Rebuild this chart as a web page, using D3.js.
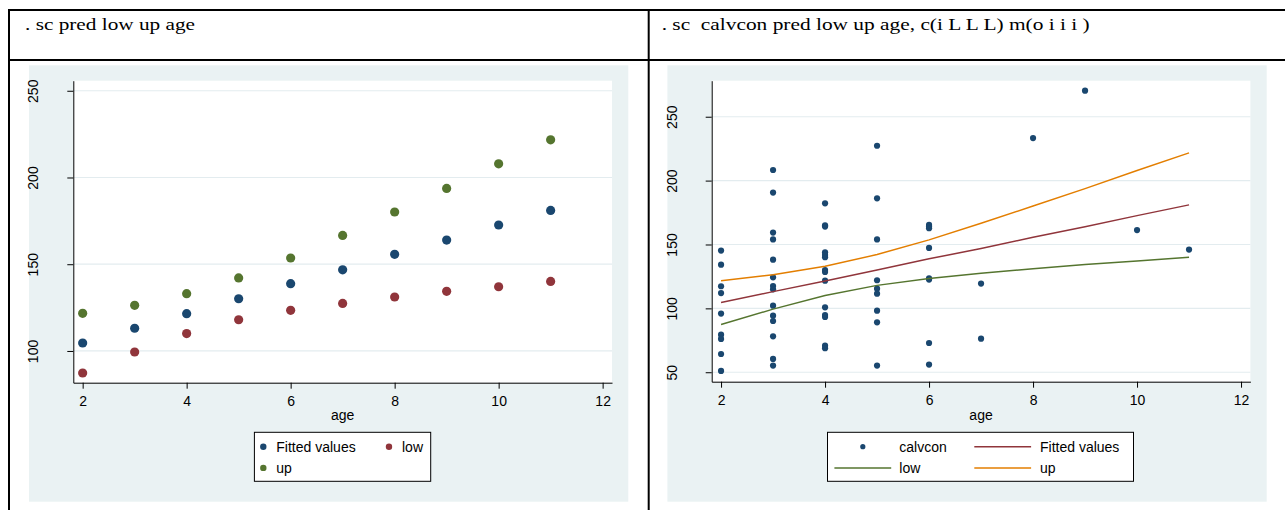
<!DOCTYPE html>
<html>
<head>
<meta charset="utf-8">
<script src="https://cdn.jsdelivr.net/npm/d3@7"></script>
<style>
  body { margin: 0; background: #fff; }
  svg text { font-family: "Liberation Sans", Arial, sans-serif; }
</style>
</head>
<body>
<div id="chart"></div>
<script>
// age groups used for the predictions
const ages = [2, 3, 4, 5, 6, 7, 8, 9, 10, 11];
const fitted = [104.6, 113.1, 121.5, 130.1, 138.8, 146.8, 155.7, 163.9, 172.6, 181.0];
const low = [87.3, 99.4, 110.0, 118.0, 123.4, 127.4, 131.1, 134.4, 137.0, 140.1];
const up = [121.7, 126.3, 133.0, 142.1, 153.6, 166.6, 180.1, 193.7, 207.9, 221.7];

// raw calvcon observations, grouped by age
const calvconAges = [2, 3, 4, 5, 6, 7, 8, 9, 10, 11];
const calvconByAge = [
  [145.2, 134.2, 117.3, 112.0, 95.9, 79.4, 76.1, 64.3, 51.0],
  [208.3, 190.6, 159.3, 154.0, 138.1, 124.3, 117.5, 114.9, 102.1, 94.3, 90.1, 78.1, 60.4, 55.2],
  [182.2, 165.0, 164.0, 143.9, 141.8, 140.0, 130.0, 128.5, 121.7, 100.8, 94.8, 93.3, 70.8, 68.8],
  [227.3, 186.1, 154.0, 122.0, 115.4, 111.5, 98.2, 89.1, 55.2],
  [165.3, 164.0, 162.7, 147.3, 123.5, 122.5, 72.9, 56.0],
  [119.4, 76.3],
  [233.3],
  [270.4],
  [161.3],
  [146.0],
];

const xTicks = [2, 4, 6, 8, 10, 12];
const yTicksLeft = [100, 150, 200, 250];
const yTicksRight = [50, 100, 150, 200, 250];

const headers = [". sc pred low up age", ". sc  calvcon pred low up age, c(i L L L) m(o i i i )"];

const navy = "#1a476f";
const maroon = "#90353b";
const green = "#55752f";
const orange = "#e37e00";
const bg = "#eaf2f3";

const svg = d3
  .select("#chart")
  .append("svg")
  .attr("width", 1285)
  .attr("height", 510);

// table frame
const frame = svg.append("g").attr("stroke", "#000").attr("stroke-width", 2);
frame.append("line").attr("x1", 8).attr("x2", 1285).attr("y1", 10).attr("y2", 10);
frame.append("line").attr("x1", 8).attr("x2", 1285).attr("y1", 60).attr("y2", 60);
frame.append("line").attr("x1", 9).attr("x2", 9).attr("y1", 9).attr("y2", 510);
frame.append("line").attr("x1", 648.7).attr("x2", 648.7).attr("y1", 9).attr("y2", 510);

// the header text is wide and squat in the original, so stretch it to fit
svg
  .selectAll(".header")
  .data(headers)
  .enter()
  .append("text")
  .attr("class", "header")
  .attr("x", (d, i) => (i === 0 ? 25 : 661.7))
  .attr("y", 29.5)
  .attr("textLength", (d, i) => (i === 0 ? 170 : 428))
  .attr("lengthAdjust", "spacingAndGlyphs")
  .style("font-family", '"Liberation Serif", "Times New Roman", serif')
  .style("font-size", "17px")
  .style("white-space", "pre")
  .text((d) => d);

function panel(ox, yDomain, yRange, yTicks) {
  const g = svg.append("g").attr("transform", `translate(${ox},0)`);

  g.append("rect")
    .attr("x", 29)
    .attr("y", 65.3)
    .attr("width", 599.3)
    .attr("height", 436.4)
    .attr("fill", bg);

  const x = d3.scaleLinear().domain([1.82, 12.18]).range([73.3, 612]);
  const y = d3.scaleLinear().domain(yDomain).range(yRange);

  g.append("rect")
    .attr("x", 73.3)
    .attr("y", 80.7)
    .attr("width", 612 - 73.3)
    .attr("height", yRange[0] - 80.7)
    .attr("fill", "#fff");

  g.selectAll(".grid")
    .data(yTicks)
    .enter()
    .append("line")
    .attr("class", "grid")
    .attr("x1", 73.3)
    .attr("x2", 612)
    .attr("y1", (d) => y(d))
    .attr("y2", (d) => y(d))
    .attr("stroke", "#e3ecef")
    .attr("stroke-width", 1.2);

  const xAxis = g
    .append("g")
    .attr("transform", `translate(0,${yRange[0]})`)
    .call(d3.axisBottom(x).tickValues(xTicks).tickSize(6).tickSizeOuter(0).tickPadding(7));
  xAxis.selectAll("text").style("font-size", "14px").attr("fill", "#000");
  xAxis.selectAll("line, path").attr("stroke", "#000");

  const yAxis = g
    .append("g")
    .attr("transform", "translate(73.3,0)")
    .call(d3.axisLeft(y).tickValues(yTicks).tickSize(6).tickSizeOuter(0));
  yAxis.selectAll("line, path").attr("stroke", "#000");
  yAxis
    .selectAll("text")
    .attr("transform", "rotate(-90)")
    .attr("x", 0)
    .attr("y", -35)
    .attr("dy", 0)
    .attr("text-anchor", "middle")
    .attr("fill", "#000")
    .style("font-size", "14px");

  g.append("text")
    .attr("x", (73.3 + 612) / 2)
    .attr("y", 420)
    .attr("text-anchor", "middle")
    .style("font-size", "14px")
    .text("age");

  const legend = g.append("g");
  return { g, x, y, legend };
}

// ---- left: markers only
const left = panel(0, [81.7, 255.8], [382.7, 80.7], yTicksLeft);
const leftSeries = [
  { name: "up", values: up, color: green },
  { name: "low", values: low, color: maroon },
  { name: "Fitted values", values: fitted, color: navy },
];
leftSeries.forEach((s) => {
  left.g
    .selectAll(null)
    .data(ages)
    .enter()
    .append("circle")
    .attr("cx", (d) => left.x(d))
    .attr("cy", (d, i) => left.y(s.values[i]))
    .attr("r", 4.6)
    .attr("fill", s.color);
});

left.legend
  .append("rect")
  .attr("x", 254.4)
  .attr("y", 432.3)
  .attr("width", 176.3)
  .attr("height", 49)
  .attr("fill", "#fff")
  .attr("stroke", "#000");

const leftKeys = [
  { name: "Fitted values", color: navy, x: 263.3, y: 446.7 },
  { name: "low", color: maroon, x: 389, y: 446.7 },
  { name: "up", color: green, x: 263.3, y: 467.9 },
];
leftKeys.forEach((k) => {
  left.legend.append("circle").attr("cx", k.x).attr("cy", k.y).attr("r", 3.2).attr("fill", k.color);
  left.legend
    .append("text")
    .attr("x", k.x + 13)
    .attr("y", k.y)
    .attr("dy", "0.35em")
    .style("font-size", "14px")
    .text(k.name);
});

// ---- right: scatter plus connected lines
const right = panel(638.4, [42.6, 278.2], [381.7, 80.7], yTicksRight);

const points = [];
calvconAges.forEach((a, i) => calvconByAge[i].forEach((v) => points.push({ age: a, value: v })));

right.g
  .selectAll(".obs")
  .data(points)
  .enter()
  .append("circle")
  .attr("class", "obs")
  .attr("cx", (d) => right.x(d.age))
  .attr("cy", (d) => right.y(d.value))
  .attr("r", 3.1)
  .attr("fill", navy);

const lineGen = (vals) =>
  d3
    .line()
    .x((d) => right.x(d))
    .y((d, i) => right.y(vals[i]))(ages);

[
  { values: fitted, color: maroon },
  { values: low, color: green },
  { values: up, color: orange },
].forEach((s) => {
  right.g
    .append("path")
    .attr("d", lineGen(s.values))
    .attr("fill", "none")
    .attr("stroke", s.color)
    .attr("stroke-width", 1.5);
});

const rl = right.legend.attr("transform", "translate(-638.4,0)");
rl.append("rect")
  .attr("x", 827.5)
  .attr("y", 432.3)
  .attr("width", 306)
  .attr("height", 49)
  .attr("fill", "#fff")
  .attr("stroke", "#000");

rl.append("circle").attr("cx", 862.8).attr("cy", 446.7).attr("r", 2.6).attr("fill", navy);
const lineKeys = [
  { color: maroon, x1: 974.3, y: 446.7 },
  { color: green, x1: 834.4, y: 467.9 },
  { color: orange, x1: 974.3, y: 467.9 },
];
lineKeys.forEach((k) => {
  rl.append("line")
    .attr("x1", k.x1)
    .attr("x2", k.x1 + 56.8)
    .attr("y1", k.y)
    .attr("y2", k.y)
    .attr("stroke", k.color)
    .attr("stroke-width", 1.5);
});
const rightLabels = [
  { name: "calvcon", x: 899.3, y: 446.7 },
  { name: "Fitted values", x: 1040, y: 446.7 },
  { name: "low", x: 899.3, y: 467.9 },
  { name: "up", x: 1040, y: 467.9 },
];
rightLabels.forEach((k) => {
  rl.append("text")
    .attr("x", k.x)
    .attr("y", k.y)
    .attr("dy", "0.35em")
    .style("font-size", "14px")
    .text(k.name);
});
</script>
</body>
</html>
